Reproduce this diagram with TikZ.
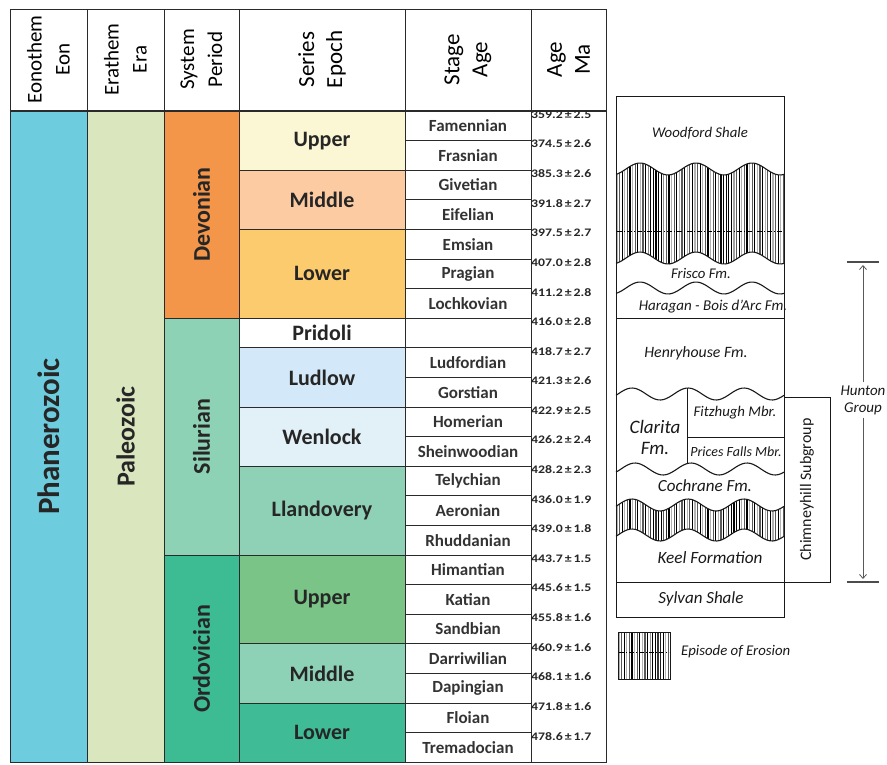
\documentclass[tikz,border=0pt]{standalone}
\usepackage{fontspec}
\setmainfont{Carlito}
\newfontfamily\agefont[FakeStretch=1.2]{Carlito}
\usetikzlibrary{arrows.meta}

\definecolor{rule}{HTML}{2A2A2A}
\definecolor{eonblue}{HTML}{6DCCDE}
\definecolor{eragreen}{HTML}{D9E6BE}
\definecolor{devonian}{HTML}{F3964A}
\definecolor{silurian}{HTML}{8ED2B5}
\definecolor{ordovician}{HTML}{3DBB93}
\definecolor{devU}{HTML}{FBF7D4}
\definecolor{devM}{HTML}{FCCBA2}
\definecolor{devL}{HTML}{FCCB6E}
\definecolor{silLu}{HTML}{D3E9F9}
\definecolor{silW}{HTML}{E2F1F8}
\definecolor{silLl}{HTML}{8FD1B6}
\definecolor{ordU}{HTML}{79C486}
\definecolor{ordM}{HTML}{8DD1B7}
\definecolor{ordL}{HTML}{3FBB95}

% wavy boundary across the column: centre line, phase (period 56)
\newcommand\wavy[2]{plot[domain=616:784, samples=61] (\x,{#1-6*cos(6.42857*(\x-#2))})}
\newcommand\wavyback[2]{-- plot[domain=784:616, samples=61] (\x,{#1-6*cos(6.42857*(\x-#2))})}

\begin{document}
\begin{tikzpicture}[x=1pt, y=-1pt, >={Straight Barb[length=4pt, width=7pt]},
    cell/.style={draw=rule, line width=0.9pt, inner sep=0pt, outer sep=0pt},
    head/.style={cell, rotate=90, align=center, minimum width=101, text=black},
    period/.style={font=\fontsize{24}{24}\selectfont\bfseries, text=black!85},
    series/.style={minimum width=166, font=\fontsize{22}{22}\selectfont\bfseries, text=black!85},
    stage/.style={minimum width=126, minimum height=29.6,
      font=\fontsize{17}{17}\selectfont\bfseries, text=black!80},
    age/.style={anchor=west, inner sep=1pt, text=black!85,
      font=\fontsize{11.5}{11.5}\selectfont\agefont\bfseries},
    wave/.style={line width=1.1pt, black!90},
    strat/.style={line width=1pt, black!90},
    hatch/.style={line width=1.2pt},
    formation/.style={text=black!90, inner sep=1pt},
    hunton arrow/.style={gray!70!black, line width=0.8pt, shorten >=3pt, shorten <=2pt},
    hunton bar/.style={gray!60!black, line width=1.2pt}]

    \useasboundingbox (0,0) rectangle (887,764);

    % header row
    \foreach \l/\cx/\w/\s [count=\i] in {Eonothem\\Eon/48.5/77/21, Erathem\\Era/125.5/77/21,
        System\\Period/201.5/75/21, Series\\Epoch/322/166/23, Stage\\Age/468/126/23, Age\\Ma/568.5/75/23}
      \node [head, minimum height=\w, font=\fontsize{\s}{28}\selectfont] (head-\i) at (\cx,59.5) {\l};

    % eon and era
    \node [cell, rotate=90, fill=eonblue, minimum width=651.2, minimum height=77,
      font=\fontsize{31}{31}\selectfont\bfseries, text=black!85] (eon) at (48.5,436.6) {Phanerozoic};
    \node [cell, rotate=90, fill=eragreen, minimum width=651.2, minimum height=77,
      font=\fontsize{26}{26}\selectfont\bfseries, text=black!85] (era) at (125.5,436.6) {Paleozoic};

    % periods
    \foreach \r/\n/\l/\c [count=\i] in {0/7/Devonian/devonian, 7/8/Silurian/silurian, 15/7/Ordovician/ordovician}
      \node [cell, period, rotate=90, fill=\c, minimum width=29.6*\n, minimum height=75]
        (period-\i) at (201.5,{111+29.6*(\r+\n/2)}) {\l};

    % series
    \foreach \r/\n/\l/\c [count=\i] in {0/2/Upper/devU, 2/2/Middle/devM, 4/3/Lower/devL,
        7/1/Pridoli/white, 8/2/Ludlow/silLu, 10/2/Wenlock/silW, 12/3/Llandovery/silLl,
        15/3/Upper/ordU, 18/2/Middle/ordM, 20/2/Lower/ordL}
      \node [cell, series, fill=\c, minimum height=29.6*\n]
        (series-\i) at (322,{111+29.6*(\r+\n/2)}) {\l};

    % stages and ages
    \node [cell, minimum width=75, minimum height=651.2] (age-col) at (568.5,436.6) {};
    \foreach \l [count=\i from 0] in {Famennian, Frasnian, Givetian, Eifelian, Emsian, Pragian,
        Lochkovian, {}, Ludfordian, Gorstian, Homerian, Sheinwoodian, Telychian, Aeronian,
        Rhuddanian, Himantian, Katian, Sandbian, Darriwilian, Dapingian, Floian, Tremadocian}
      \node [cell, stage] (stage-\i) at (468,{111+29.6*(\i+0.5)}) {\l};

    \foreach \a/\e [count=\i from 0] in {359.2/2.5, 374.5/2.6, 385.3/2.6, 391.8/2.7, 397.5/2.7,
        407.0/2.8, 411.2/2.8, 416.0/2.8, 418.7/2.7, 421.3/2.6, 422.9/2.5, 426.2/2.4, 428.2/2.3,
        436.0/1.9, 439.0/1.8, 443.7/1.5, 445.6/1.5, 455.8/1.6, 460.9/1.6, 468.1/1.6,
        471.8/1.6, 478.6/1.7}
      \node [age] (age-\i) at (530,{111+29.6*\i+3.5}) {\a\,±\,\e};

    % erosion band, upper
    \begin{scope}
      \clip \wavy{169}{640} \wavyback{258}{640} -- cycle;
      \foreach \i in {0,...,64} {
        \pgfmathsetmacro\hx{617+2.6*\i}
        \pgfmathtruncatemacro\hd{min(100,30+35*mod(\i,3)+70*max(0,1-abs(\hx-656)/10)+70*max(0,1-abs(\hx-726)/9))}
        \draw [hatch, black!\hd] (\hx,150) -- (\hx,275);
      }
    \end{scope}
    \draw [line width=0.8pt, dash pattern=on 5pt off 2pt on 1pt off 2pt] (617,231) -- (783,231);

    % erosion band, lower
    \begin{scope}
      \clip \wavy{505}{632} \wavyback{535}{632} -- cycle;
      \foreach \i in {0,...,64} {
        \pgfmathsetmacro\hx{617+2.6*\i}
        \pgfmathtruncatemacro\hd{min(100,30+35*mod(\i,3)+70*max(0,1-abs(\hx-659)/10)+70*max(0,1-abs(\hx-734)/8))}
        \draw [hatch, black!\hd] (\hx,490) -- (\hx,550);
      }
    \end{scope}

    % boundaries
    \foreach \yc/\ph in {169/640, 258/640, 288/640, 394/632, 469/635, 505/632, 535/632}
      \draw [wave] \wavy{\yc}{\ph};
    \draw [strat] (616,318) -- (784,318);
    \draw [strat] (616,582) -- (784,582);
    \draw [strat] (687,{394-6*cos(6.42857*55)}) -- (687,{469-6*cos(6.42857*52)});
    \draw [strat] (687,437) -- (784,437);
    \node [strat, draw, inner sep=0pt, minimum width=168, minimum height=521] (column) at (700,356.5) {};

    % formations
    \foreach \l/\px/\py/\s [count=\i] in {Woodford Shale/700/133/14.8, Frisco Fm./701/273/14.8,
        Haragan - Bois d'Arc Fm./713/307/15, Henryhouse Fm./696/353/15.8,
        Clarita\\Fm./655/437/19, Fitzhugh Mbr./735/413/14.8, Prices Falls Mbr./736/452/14,
        Cochrane Fm./705/486/17, Keel Formation/710/558/17.2, Sylvan Shale/701/599/17}
      \node [formation, align=center, font=\itshape\fontsize{\s}{21}\selectfont] (fm-\i) at (\px,\py) {\l};

    \node [strat, draw, rotate=90, inner sep=0pt, minimum width=185, minimum height=46,
      font=\fontsize{16}{16}\selectfont, text=black!90] (chimneyhill) at (807,489.5) {Chimneyhill Subgroup};

    % Hunton Group range
    \node [formation, align=center, font=\itshape\fontsize{15}{17}\selectfont] (hunton) at (863,400) {Hunton\\Group};
    \coordinate (hunton-top) at (863,262);
    \coordinate (hunton-bottom) at (863,582);
    \draw [hunton bar] ([xshift=-16]hunton-top) -- ([xshift=16]hunton-top);
    \draw [hunton bar] ([xshift=-16]hunton-bottom) -- ([xshift=16]hunton-bottom);
    \draw [hunton arrow, ->] (hunton) -- (hunton-top);
    \draw [hunton arrow, ->] (hunton) -- (hunton-bottom);

    % legend
    \begin{scope}
      \clip (618,632) rectangle (670,679);
      \foreach \i in {0,...,20} {
        \pgfmathsetmacro\hx{619+2.6*\i}
        \pgfmathtruncatemacro\hd{min(100,30+35*mod(\i,3)+70*max(0,1-abs(\hx-656)/7))}
        \draw [hatch, black!\hd] (\hx,630) -- (\hx,681);
      }
    \end{scope}
    \draw [line width=0.8pt, dash pattern=on 5pt off 2pt on 1pt off 2pt] (619,652) -- (669,652);
    \node [strat, draw, inner sep=0pt, minimum width=52, minimum height=47] (legend) at (644,655.5) {};
    \node [formation, anchor=west, font=\itshape\fontsize{14.8}{14.8}\selectfont] (legend-text) at (680,652) {Episode of Erosion};

\end{tikzpicture}
\end{document}
